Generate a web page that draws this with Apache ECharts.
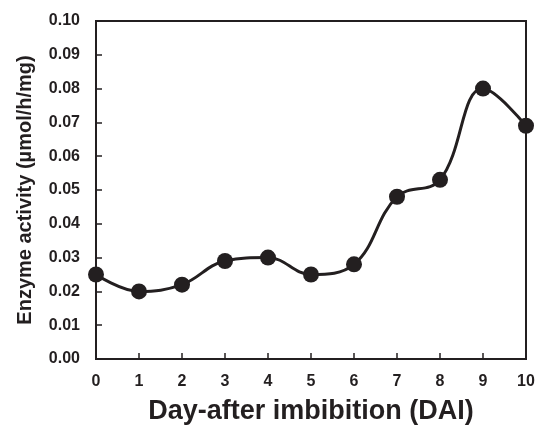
<!DOCTYPE html>
<html lang="en">
<head>
    <meta charset="UTF-8">
    <title>Enzyme activity</title>
    <style>
        html, body { margin: 0; padding: 0; background: #fff; }
        #chart { width: 538px; height: 427px; }
    </style>
</head>
<body>
<div id="chart"></div>
<script src="https://cdn.jsdelivr.net/npm/echarts@6/dist/echarts.min.js"></script>
<script type="text/javascript">
    var days = [0, 1, 2, 3, 4, 5, 6, 7, 8, 9, 10];
    var activity = [0.025, 0.020, 0.022, 0.029, 0.030, 0.025, 0.028, 0.048, 0.053, 0.080, 0.069];

    var ink = '#231f20';
    var points = days.map(function (d, i) { return [d, activity[i]]; });

    var myChart = echarts.init(document.getElementById('chart'));
    var option = {
        backgroundColor: '#fff',
        animation: false,
        grid: {
            left: 96, right: 12, top: 21, bottom: 68,
            outerBoundsMode: 'none', containLabel: false,
            show: true, borderColor: ink, borderWidth: 2, backgroundColor: 'transparent'
        },
        xAxis: {
            type: 'value', min: 0, max: 10, interval: 1,
            name: 'Day-after imbibition (DAI)',
            nameLocation: 'middle', nameGap: 39,
            nameTextStyle: { fontFamily: 'Liberation Sans', fontWeight: 'bold', fontSize: 27, color: ink },
            axisLine: { show: true, lineStyle: { color: ink, width: 2 } },
            axisTick: { show: true, inside: true, length: 6, lineStyle: { color: ink, width: 1.5 } },
            axisLabel: { margin: 15, fontFamily: 'Liberation Sans', fontWeight: 'bold', fontSize: 16, color: ink },
            splitLine: { show: false }
        },
        yAxis: {
            type: 'value', min: 0, max: 0.1, interval: 0.01,
            name: 'Enzyme activity (µmol/h/mg)',
            nameLocation: 'middle', nameGap: 61,
            nameTextStyle: { fontFamily: 'Liberation Sans', fontWeight: 'bold', fontSize: 20, color: ink },
            axisLine: { show: true, lineStyle: { color: ink, width: 2 } },
            axisTick: { show: true, inside: true, length: 6, lineStyle: { color: ink, width: 1.5 } },
            axisLabel: {
                margin: 16, fontFamily: 'Liberation Sans', fontWeight: 'bold', fontSize: 16, color: ink,
                formatter: function (v) { return v.toFixed(2); }
            },
            splitLine: { show: false }
        },
        series: [{
            type: 'line',
            data: points,
            smooth: 0.4,
            symbol: 'circle',
            symbolSize: 16,
            lineStyle: { color: ink, width: 3 },
            itemStyle: { color: ink, borderWidth: 0 }
        }]
    };
    myChart.setOption(option, true);
</script>
</body>
</html>
